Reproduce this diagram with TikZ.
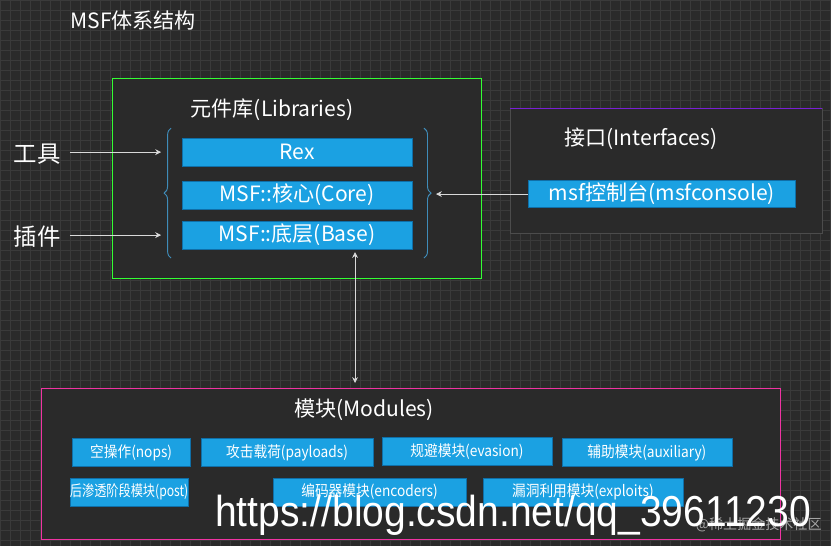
\documentclass[tikz,border=0pt]{standalone}
\usepackage{fontspec}
\setmainfont{Noto Sans CJK SC}
\newfontfamily\wmfont{Liberation Sans}
\usetikzlibrary{arrows.meta,decorations.pathreplacing}
\definecolor{bg}{HTML}{2A2A2A}
\definecolor{gridc}{HTML}{3A3A3A}
\definecolor{blu}{HTML}{1BA1E2}
\definecolor{bluB}{HTML}{0F6FA8}
\definecolor{purp}{HTML}{7A1FD6}
\tikzset{
  box/.style={fill=blu,draw=bluB,line width=0.6pt,text=white,inner sep=0pt},
  lbl/.style={text=white,inner sep=0pt},
  arr/.style={draw=white!85!black,line width=0.7pt,-{Stealth[length=5pt,width=5pt]}},
  brc/.style={draw=bluB!80!white,line width=0.8pt,decorate,decoration={brace,amplitude=6pt}}
}
\begin{document}
\begin{tikzpicture}[x=0.03cm,y=-0.03cm]
\fill[bg] (0,0) rectangle (831,546);
\draw[gridc,line width=0.3pt] (0,0) grid[step=0.3cm] (831,546);
\useasboundingbox (0,0) rectangle (831,546);
\node[lbl,anchor=west,font=\fontsize{18}{20}\selectfont] (title) at (70,20) {MSF体系结构};
% Libraries
\draw[green!80!white,line width=0.7pt,fill=bg] (112,78) rectangle (481,278);
\node[lbl,font=\fontsize{18}{20}\selectfont] (libt) at (272,110) {元件库(Libraries)};
\node[box,font=\fontsize{18}{20}\selectfont,minimum width=6.9cm,minimum height=0.84cm] (rex) at (297,152) {Rex};
\node[box,font=\fontsize{18}{20}\selectfont,minimum width=6.9cm,minimum height=0.84cm] (core) at (297,195) {MSF::核心(Core)};
\node[box,font=\fontsize{18}{20}\selectfont,minimum width=6.9cm,minimum height=0.84cm] (base) at (297,235) {MSF::底层(Base)};
\coordinate (rb) at (436,194);
\draw[brc] (171,258) -- (171,128);
\draw[brc] (424,128) -- (424,258);
\node[lbl,font=\fontsize{20}{22}\selectfont] (tool) at (37,154) {工具};
\node[lbl,font=\fontsize{20}{22}\selectfont] (plug) at (37,237) {插件};
\coordinate (toolend) at (161,152);
\coordinate (plugend) at (161,235);
\draw[arr] (tool.east)++(9,-2) -- (toolend);
\draw[arr] (plug.east)++(9,-2) -- (plugend);
% Interfaces
\fill[bg] (510,108) rectangle (822,233);
\draw[gray!60!black,line width=0.5pt] (510,108) rectangle (822,233);
\draw[purp,line width=1pt] (510,108) -- (822,108);
\node[lbl,font=\fontsize{18}{20}\selectfont] (ift) at (641,139) {接口(Interfaces)};
\node[box,font=\fontsize{18}{20}\selectfont,minimum width=8.04cm,minimum height=0.81cm] (msfc) at (662,194) {msf控制台(msfconsole)};
\draw[arr] (msfc.west) -- (rb);
% Modules
\draw[magenta!80!white,line width=0.7pt,fill=bg] (41,388) rectangle (781,539);
\node[lbl,font=\fontsize{18}{20}\selectfont] (modt) at (364,410) {模块(Modules)};
\tikzset{mb/.style={box,font=\fontsize{13}{15}\selectfont,minimum height=0.84cm}}
\node[mb,minimum width=3.54cm] (m1) at (131,452.5) {\scalebox{0.9}[1]{空操作(nops)}};
\node[mb,minimum width=5.16cm] (m2) at (287,452.5) {\scalebox{0.9}[1]{攻击载荷(payloads)}};
\node[mb,minimum width=5.1cm] (m3) at (467,451.5) {\scalebox{0.9}[1]{规避模块(evasion)}};
\node[mb,minimum width=5.1cm] (m4) at (647,452.5) {\scalebox{0.9}[1]{辅助模块(auxiliary)}};
\node[mb,minimum width=3.42cm] (m5) at (129,492) {\scalebox{0.8}[1]{后渗透阶段模块(post)}};
\node[mb,minimum width=5.79cm] (m6) at (369.5,492) {\scalebox{0.9}[1]{编码器模块(encoders)}};
\node[mb,minimum width=6cm] (m7) at (583,492) {\scalebox{0.9}[1]{漏洞利用模块(exploits)}};
\coordinate (vtop) at (355,252);
\coordinate (vbot) at (355,383);
\draw[arr,{Stealth[length=5pt,width=5pt]}-{Stealth[length=5pt,width=5pt]}] (vtop) -- (vbot);
% watermark
\node[lbl,anchor=east,font=\fontsize{12}{14}\selectfont,text=gray!70] (wm2) at (822,525) {@稀土掘金技术社区};
\node[lbl,anchor=west,font=\wmfont\fontsize{37}{40}\selectfont,xscale=0.9] (wm) at (215,515) {https://blog.csdn.net/qq\_39611230};
\end{tikzpicture}
\end{document}
